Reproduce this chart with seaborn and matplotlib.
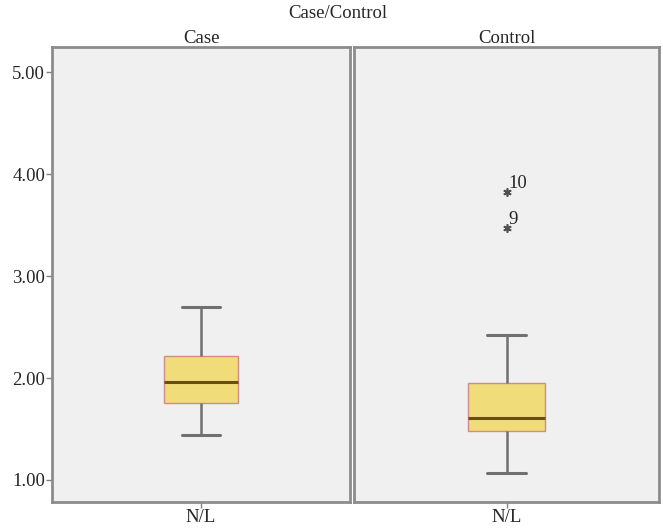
import matplotlib
matplotlib.use("Agg")
import matplotlib.pyplot as plt
import seaborn as sns
import pandas as pd

# Values (constructed so quartiles/whiskers match)
case_values = [1.44, 1.755, 1.96, 2.215, 2.70]
control_values = [1.07, 1.25, 1.40, 1.48, 1.52, 1.57, 1.61, 1.70, 1.82, 1.95, 2.42, 3.47, 3.82]
control_outlier_ids = ["9", "10"]
control_outlier_vals = [3.47, 3.82]
panels = ["Case", "Control"]
variable = "N/L"
yticks = [1.00, 2.00, 3.00, 4.00, 5.00]

df = pd.DataFrame({
    "group": ["Case"] * len(case_values) + ["Control"] * len(control_values),
    "var": variable,
    "value": case_values + control_values,
})

sns.set_style("white")
plt.rcParams["font.family"] = ["Liberation Serif", "DejaVu Serif"]
FS = 13.5

fig = plt.figure(figsize=(6.63, 5.29), dpi=100)
bottom, top = 0.051, 0.911
axes = [fig.add_axes([0.0784, bottom, 0.528 - 0.0784, top - bottom]),
        fig.add_axes([0.534, bottom, 0.994 - 0.534, top - bottom])]

for ax, name in zip(axes, panels):
    ax.set_facecolor("#F0F0F0")
    sns.boxplot(data=df[df.group == name], x="var", y="value", ax=ax,
                width=0.25, whis=1.5,
                boxprops=dict(facecolor="#F0DC78", edgecolor="#D08A8A", linewidth=1),
                medianprops=dict(color="#6A4E14", linewidth=2.2),
                whiskerprops=dict(color="#707070", linewidth=1.8),
                capprops=dict(color="#707070", linewidth=2.2),
                flierprops=dict(marker=(6, 2, 0), markersize=6, markerfacecolor="#505050",
                                markeredgecolor="#505050", markeredgewidth=1.2),
                showfliers=True)
    ax.set_ylim(0.784, 5.245)
    ax.set_xlim(-0.5, 0.5)
    ax.set_xlabel("")
    ax.set_ylabel("")
    ax.set_title(name, fontsize=FS, pad=3)
    for s in ax.spines.values():
        s.set_color("#8C8C8C")
        s.set_linewidth(2)
    ax.tick_params(axis="x", length=4, width=1, color="#808080", labelsize=FS, pad=1, bottom=True)

axes[0].set_yticks(yticks)
axes[0].set_yticklabels([f"{v:.2f}" for v in yticks])
axes[0].tick_params(axis="y", length=4, width=1, color="#808080", labelsize=FS, pad=1, left=True)
axes[1].set_yticks([])

for lab, v in zip(control_outlier_ids, control_outlier_vals):
    axes[1].annotate(lab, xy=(0, v), xytext=(1, 0), textcoords="offset points",
                     fontsize=FS, ha="left", va="bottom")

fig.text(0.51, 0.974, "Case/Control", ha="center", va="center", fontsize=FS)

fig.savefig("out.png", dpi=100)
